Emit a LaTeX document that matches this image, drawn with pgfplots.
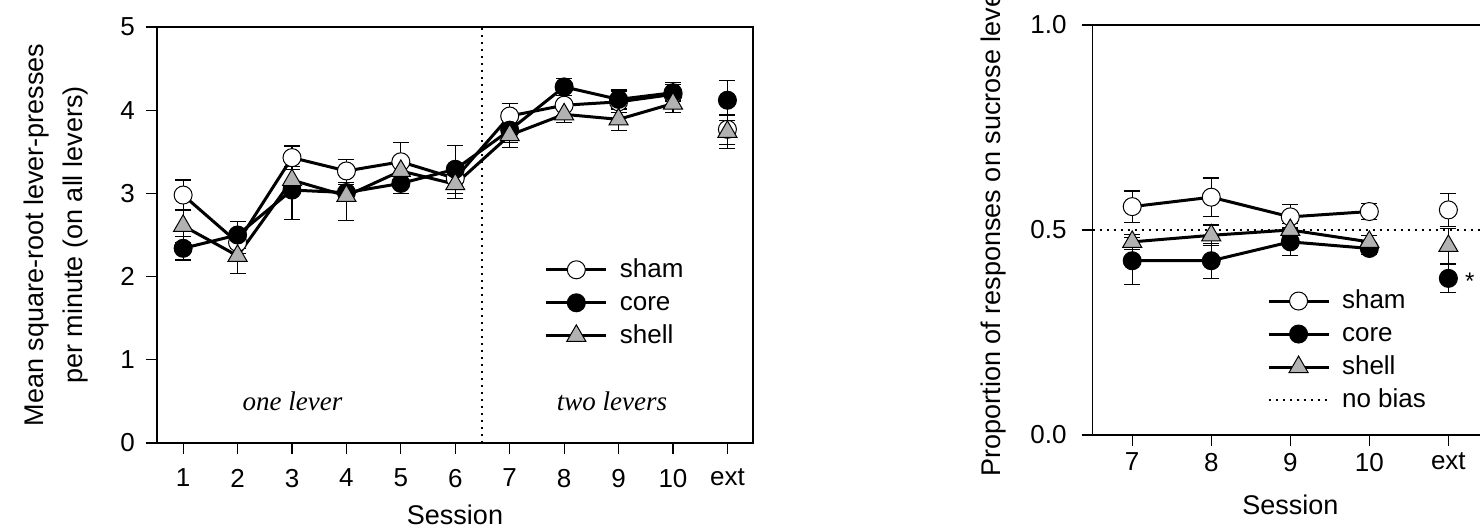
\documentclass[border=0pt]{standalone}
\usepackage{fontspec}
\setmainfont{Liberation Sans}
\newfontfamily\seriffont{Liberation Serif}
\usepackage{pgfplots}
\pgfplotsset{compat=1.18}
\definecolor{shellgray}{RGB}{178,178,178}

\pgfplotsset{
  panel/.style={
    scale only axis,
    axis line style={line width=0.6pt},
    tick align=outside, tick pos=left,
    major tick length=5.5pt,
    tick style={line width=0.6pt, black},
    ticklabel style={font=\fontsize{13}{15}\selectfont},
    label style={font=\fontsize{13.5}{19.5}\selectfont},
    /pgf/number format/assume math mode=true,
    legend cell align=left,
    legend style={draw=none, fill=none, font=\fontsize{13}{15}\selectfont,
      nodes={inner ysep=2pt, text height=10pt, text depth=2.5pt}},
    legend image code/.code={
      \draw[mark repeat=2, mark phase=2, #1] plot coordinates {(0pt,0pt) (15pt,0pt) (30pt,0pt)};
      \path (34pt,0pt);},
  },
  grp/.style={black, line width=1.5pt, mark size=4.5pt,
    error bars/y dir=both, error bars/y explicit,
    error bars/error bar style={line width=0.6pt, black},
    error bars/error mark options={rotate=90, mark size=4pt, line width=0.6pt, black}},
  sham/.style={grp, mark=*, mark options={solid, line width=0.5pt, draw=black, fill=white}},
  core/.style={grp, mark=*, mark options={solid, line width=0.5pt, draw=black, fill=black}},
  shell/.style={grp, mark=triangle*, mark size=5.5pt, mark options={solid, line width=0.5pt, draw=black, fill=shellgray}},
  nobias/.style={black, line width=1pt, dash pattern=on 1pt off 2.5pt},
}

\begin{document}
\begin{tikzpicture}

% left panel: response rates
\begin{axis}[panel,
  at={(78.5pt,42.5pt)}, anchor=south west,
  width=298pt, height=208pt,
  xmin=0.52, xmax=11.47, ymin=0, ymax=5,
  xtick={1,...,11}, xticklabels={1,2,3,4,5,6,7,8,9,10,ext},
  ytick={0,...,5},
  xticklabel style={yshift=-4pt},
  yticklabel style={xshift=-2pt},
  xlabel={Session},
  ylabel={Mean square-root lever-presses\\per minute (on all levers)},
  ylabel style={align=center, at={(axis description cs:-0.169,0.5)}, anchor=center},
  xlabel style={at={(axis description cs:0.5,-0.173)}, anchor=center},
  legend style={at={(rel axis cs:0.64,0.337)}, anchor=west},
]
\addplot[nobias, forget plot] coordinates {(6.5,0) (6.5,5)};

\addplot[sham] coordinates {
  (1,2.98) +- (0,0.18)
  (2,2.41) +- (0,0.13)
  (3,3.43) +- (0,0.14)
  (4,3.27) +- (0,0.14)
  (5,3.38) +- (0,0.23)
  (6,3.18) +- (0,0.12)
  (7,3.93) +- (0,0.15)
  (8,4.06) +- (0,0.12)
  (9,4.10) +- (0,0.13)
  (10,4.19) +- (0,0.14)
};
\addlegendentry{sham}
\addplot[core] coordinates {
  (1,2.34) +- (0,0.14)
  (2,2.50) +- (0,0.16)
  (3,3.04) +- (0,0.35)
  (4,3.01) +- (0,0.10)
  (5,3.12) +- (0,0.12)
  (6,3.29) +- (0,0.29)
  (7,3.76) +- (0,0.15)
  (8,4.28) +- (0,0.10)
  (9,4.13) +- (0,0.12)
  (10,4.21) +- (0,0.10)
};
\addlegendentry{core}
\addplot[shell] coordinates {
  (1,2.61) +- (0,0.20)
  (2,2.25) +- (0,0.21)
  (3,3.16) +- (0,0.16)
  (4,2.97) +- (0,0.30)
  (5,3.27) +- (0,0.15)
  (6,3.11) +- (0,0.17)
  (7,3.70) +- (0,0.15)
  (8,3.95) +- (0,0.10)
  (9,3.89) +- (0,0.13)
  (10,4.08) +- (0,0.11)
};
\addlegendentry{shell}

\addplot[sham, forget plot] coordinates {(11,3.77) +- (0,0.18)};
\addplot[core, forget plot] coordinates {(11,4.12) +- (0,0.24)};
\addplot[shell, forget plot] coordinates {(11,3.74) +- (0,0.20)};

\node[font=\seriffont\itshape\fontsize{13.5}{15}\selectfont] at (axis cs:3.01,0.5) {one lever};
\node[font=\seriffont\itshape\fontsize{13.5}{15}\selectfont] at (axis cs:8.88,0.5) {two levers};
\end{axis}

% right panel: lever bias
\begin{axis}[panel,
  at={(546.35pt,46.5pt)}, anchor=south west,
  width=197.6pt, height=205pt,
  xmin=6.5, xmax=11.5, ymin=0, ymax=1,
  xtick={7,...,11}, xticklabels={7,8,9,10,ext},
  ytick={0,0.5,1}, yticklabels={0.0,0.5,1.0},
  yticklabel style={xshift=-4pt},
  xlabel={Session},
  ylabel={Proportion of responses on sucrose lever},
  ylabel style={at={(axis description cs:-0.25,0.5)}, anchor=center},
  xlabel style={at={(axis description cs:0.5,-0.171)}, anchor=center},
  legend style={at={(rel axis cs:0.425,0.206)}, anchor=west},
]
\addplot[nobias, forget plot] coordinates {(6.5,0.5) (11.5,0.5)};

\addplot[sham] coordinates {
  (7,0.557) +- (0,0.038)
  (8,0.580) +- (0,0.047)
  (9,0.532) +- (0,0.030)
  (10,0.545) +- (0,0.020)
};
\addlegendentry{sham}
\addplot[core] coordinates {
  (7,0.425) +- (0,0.057)
  (8,0.425) +- (0,0.043)
  (9,0.471) +- (0,0.034)
  (10,0.455) +- (0,0.015)
};
\addlegendentry{core}
\addplot[shell] coordinates {
  (7,0.471) +- (0,0.018)
  (8,0.487) +- (0,0.025)
  (9,0.500) +- (0,0.015)
  (10,0.471) +- (0,0.015)
};
\addlegendentry{shell}
\addlegendimage{nobias}
\addlegendentry{no bias}

\addplot[sham, forget plot] coordinates {(11,0.549) +- (0,0.040)};
\addplot[shell, forget plot] coordinates {(11,0.461) +- (0,0.042)};
\addplot[core, forget plot] coordinates {(11,0.382) +- (0,0.035)};

\node[font=\fontsize{12}{14}\selectfont] at (axis cs:11.27,0.375) {*};
\end{axis}

\pgfresetboundingbox
\path[use as bounding box] (0,0) rectangle (740pt,264pt);
\end{tikzpicture}
\end{document}
